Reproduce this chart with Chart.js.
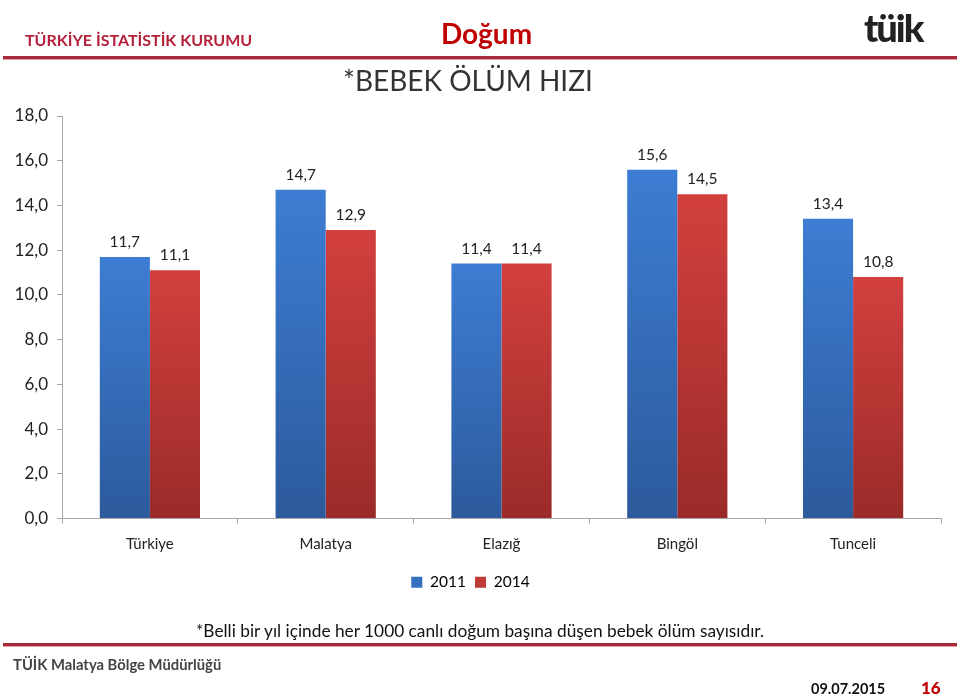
<!DOCTYPE html>
<html>
<head>
<meta charset="utf-8">
<script src="https://cdn.jsdelivr.net/npm/chart.js@4"></script>
<style>
  html,body{margin:0;padding:0;background:#fff;}
  #wrap{position:relative;width:960px;height:696px;overflow:hidden;font-family:Lato,"Open Sans",sans-serif;}
  #c{position:absolute;left:0;top:0;}
  .t{position:absolute;white-space:nowrap;}
  .rule{position:absolute;left:3px;width:954px;height:3px;background:#A52A3A;border-bottom:1px solid #E8A0A8;}
</style>
</head>
<body>
<div id="wrap">
  <canvas id="c" width="960" height="696"></canvas>
  <div class="t" style="left:25px;top:30px;font-size:16px;font-weight:700;color:#B4213A;">TÜRKİYE İSTATİSTİK KURUMU</div>
  <div class="t" style="left:441px;top:16px;font-size:28px;font-weight:700;color:#C00000;">Doğum</div>
  <div class="t" style="left:343px;top:63px;font-size:28px;color:#333;">*BEBEK ÖLÜM HIZI</div>
  <div class="t" style="left:864px;top:4px;font-size:38px;font-weight:900;color:#222;letter-spacing:-2px;">tüik</div>
  <div class="rule" style="top:56px;"></div>
  <div class="rule" style="top:643px;"></div>
  <div class="t" style="left:196px;top:620px;font-size:17.3px;color:#111;">*Belli bir yıl içinde her 1000 canlı doğum başına düşen bebek ölüm sayısıdır.</div>
  <div class="t" style="left:13px;top:655px;font-size:14.8px;font-weight:700;color:#444;">TÜİK Malatya Bölge Müdürlüğü</div>
  <div class="t" style="left:811px;top:680px;font-size:14.5px;font-weight:700;color:#111;">09.07.2015</div>
  <div class="t" style="left:921px;top:677px;font-size:17px;font-weight:900;color:#C00000;">16</div>
</div>
<script>
const categories = ["Türkiye", "Malatya", "Elazığ", "Bingöl", "Tunceli"];
const seriesNames = ["2011", "2014"];
const values2011 = [11.7, 14.7, 11.4, 15.6, 13.4];
const values2014 = [11.1, 12.9, 11.4, 14.5, 10.8];
const yTicks = [0, 2, 4, 6, 8, 10, 12, 14, 16, 18];

function fmt(v){ return v.toFixed(1).replace('.', ','); }

function gradFill(top, bottom){
  return function(ctx){
    const chart = ctx.chart;
    const y = chart.scales && chart.scales.y;
    if (!chart.chartArea || !y || ctx.raw === undefined) return top;
    const y0 = y.getPixelForValue(ctx.raw);
    const y1 = y.getPixelForValue(0);
    if (!isFinite(y0) || !isFinite(y1) || y0 === y1) return top;
    const g = chart.ctx.createLinearGradient(0, y0, 0, y1);
    g.addColorStop(0, top);
    g.addColorStop(1, bottom);
    return g;
  };
}

const labelPlugin = {
  id: 'valueLabels',
  afterDatasetsDraw(chart){
    const ctx = chart.ctx;
    ctx.save();
    ctx.font = '15.5px Lato, "Open Sans", sans-serif';
    ctx.fillStyle = '#222';
    ctx.textAlign = 'center';
    ctx.textBaseline = 'middle';
    chart.data.datasets.forEach((ds, di) => {
      const meta = chart.getDatasetMeta(di);
      meta.data.forEach((bar, i) => {
        ctx.fillText(fmt(ds.data[i]), bar.x, bar.y - 15);
      });
    });
    ctx.restore();
  }
};

new Chart(document.getElementById('c'), {
  type: 'bar',
  data: {
    labels: categories,
    datasets: [
      { label: seriesNames[0], data: values2011, backgroundColor: gradFill('#3D7DD3', '#2C5A9C'), borderWidth: 0 },
      { label: seriesNames[1], data: values2014, backgroundColor: gradFill('#D2403E', '#9A2B29'), borderWidth: 0 }
    ]
  },
  options: {
    responsive: false,
    animation: false,
    devicePixelRatio: 1,
    layout: { padding: { left: 0, right: 19, top: 116, bottom: 96 } },
    datasets: { bar: { categoryPercentage: 0.57, barPercentage: 1.0 } },
    plugins: {
      legend: {
        position: 'bottom',
        labels: {
          boxWidth: 11, boxHeight: 11, padding: 9,
          color: '#222',
          font: { size: 15.5, family: 'Lato, "Open Sans", sans-serif' },
          generateLabels(chart){
            return chart.data.datasets.map((ds, i) => ({
              text: ds.label,
              fillStyle: i === 0 ? '#3570C0' : '#C03A38',
              strokeStyle: 'transparent',
              lineWidth: 0,
              datasetIndex: i
            }));
          }
        }
      },
      tooltip: { enabled: false }
    },
    scales: {
      x: {
        grid: { display: true, drawOnChartArea: false, drawTicks: true, tickLength: 5, color: '#A6A6A6', offset: true },
        border: { color: '#A6A6A6', width: 1 },
        ticks: { color: '#222', font: { size: 15, family: 'Lato, "Open Sans", sans-serif' }, padding: 12 }
      },
      y: {
        min: 0, max: 18,
        afterBuildTicks(scale){ scale.ticks = yTicks.map(v => ({ value: v })); },
        afterFit(scale){ scale.width = 62; },
        grid: { display: true, drawOnChartArea: false, drawTicks: true, tickLength: 5, color: '#A6A6A6' },
        border: { color: '#A6A6A6', width: 1 },
        ticks: { color: '#222', font: { size: 17, family: 'Lato, "Open Sans", sans-serif' }, padding: 9, callback: v => fmt(v) }
      }
    }
  },
  plugins: [labelPlugin]
});
</script>
</body>
</html>
